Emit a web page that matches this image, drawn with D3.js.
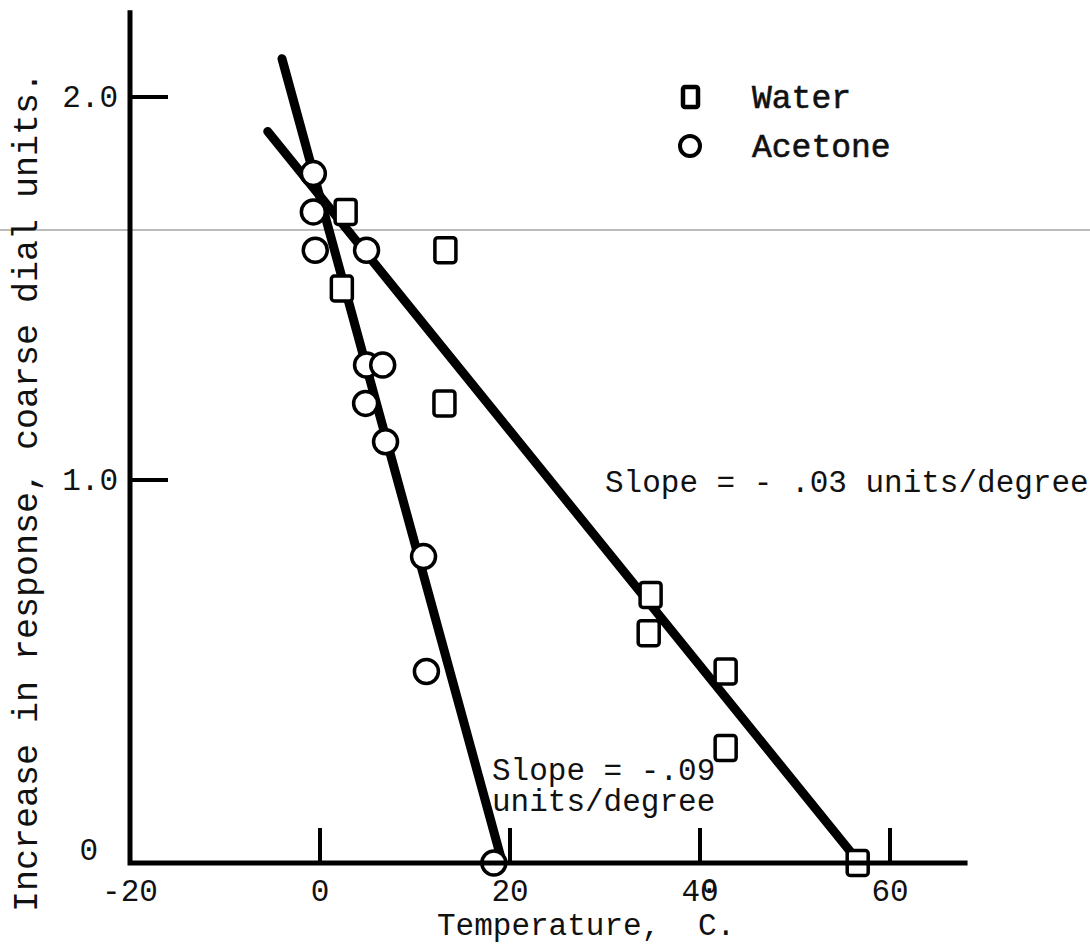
<!DOCTYPE html>
<html>
<head>
<meta charset="utf-8">
<script src="https://cdn.jsdelivr.net/npm/d3@7"></script>
<style>
  body { margin: 0; background: #fff; }
  text { font-family: "Liberation Mono", "Courier New", monospace; fill: #111; }
  .fit { fill: none; stroke: #000; stroke-width: 9; stroke-linecap: round; }
  .axis { stroke: #000; stroke-width: 5; stroke-linecap: square; fill: none; }
  .tick { stroke: #000; stroke-width: 4; }
  .marker { fill: #fff; stroke: #000; stroke-width: 3.5; }
</style>
</head>
<body>
<svg id="viz" width="1090" height="947"></svg>
<script>
window.onload = main;

// water readings (squares): temperature in C, increase in response
var waterTemp = [2.7, 2.3, 13.2, 13.1, 34.8, 34.6, 42.7, 42.7, 56.6];
var waterResp = [1.70, 1.50, 1.60, 1.20, 0.70, 0.60, 0.50, 0.30, 0.0];
// acetone readings (circles)
var acetoneTemp = [-0.7, -0.7, -0.5, 4.9, 4.9, 6.6, 4.8, 6.9, 10.9, 11.2, 18.3];
var acetoneResp = [1.80, 1.70, 1.60, 1.60, 1.30, 1.30, 1.20, 1.10, 0.80, 0.50, 0.0];
// hand drawn fitted lines, end points
var waterFitTemp = [-5.5, 56.8];
var waterFitResp = [1.91, 0.0];
var acetoneFitTemp = [-4.0, 19.2];
var acetoneFitResp = [2.10, 0.0];

var xTicks = [0, 20, 40, 60];
var xTickLabels = ["-20", "0", "20", "40", "60"];
var xLabelValues = [-20, 0, 20, 40, 60];
var yTicks = [2.0, 1.0];
var yTickLabels = ["2.0", "1.0", "0"];
var yLabelValues = [2.0, 1.0, 0];

function main(){
  var svg = d3.select("#viz");

  var xScale = d3.scaleLinear().domain([-20, 60]).range([130, 890]);
  var yScale = d3.scaleLinear().domain([0, 2]).range([863, 97]);

  // scan crease across the sheet
  svg.append("line")
    .attr("x1", 0).attr("x2", 1090)
    .attr("y1", 230).attr("y2", 230)
    .attr("stroke", "#7a7a7a").attr("stroke-width", 1.2);

  var line = d3.line()
    .x(function(d){ return xScale(d.t); })
    .y(function(d){ return yScale(d.v); });

  var waterFit = waterFitTemp.map(function(t, i){ return {t: t, v: waterFitResp[i]}; });
  var acetoneFit = acetoneFitTemp.map(function(t, i){ return {t: t, v: acetoneFitResp[i]}; });
  svg.append("path").datum(waterFit).attr("class", "fit").attr("d", line);
  svg.append("path").datum(acetoneFit).attr("class", "fit").attr("d", line);

  // markers
  var water = waterTemp.map(function(t, i){ return {t: t, v: waterResp[i]}; });
  var acetone = acetoneTemp.map(function(t, i){ return {t: t, v: acetoneResp[i]}; });

  svg.selectAll(".sq").data(water).enter().append("rect")
    .attr("class", "marker sq")
    .attr("x", function(d){ return xScale(d.t) - 10.5; })
    .attr("y", function(d){ return yScale(d.v) - 12.5; })
    .attr("width", 21).attr("height", 25)
    .attr("rx", 3);

  svg.selectAll(".circ").data(acetone).enter().append("circle")
    .attr("class", "marker circ")
    .attr("cx", function(d){ return xScale(d.t); })
    .attr("cy", function(d){ return yScale(d.v); })
    .attr("r", 12);

  // axes
  var xEnd = 67.9, yTop = 2.22;
  svg.append("path").attr("class", "axis")
    .attr("d", "M" + xScale(-20) + "," + yScale(yTop) + "V" + yScale(0) + "H" + xScale(xEnd));

  svg.selectAll(".xt").data(xTicks).enter().append("line")
    .attr("class", "tick")
    .attr("x1", function(d){ return xScale(d); })
    .attr("x2", function(d){ return xScale(d); })
    .attr("y1", yScale(0))
    .attr("y2", yScale(0) - 35);

  svg.selectAll(".yt").data(yTicks).enter().append("line")
    .attr("class", "tick")
    .attr("x1", xScale(-20))
    .attr("x2", xScale(-20) + 38)
    .attr("y1", function(d){ return yScale(d); })
    .attr("y2", function(d){ return yScale(d); });

  svg.selectAll(".xl").data(xLabelValues).enter().append("text")
    .attr("x", function(d){ return xScale(d); })
    .attr("y", yScale(0) + 38)
    .attr("text-anchor", "middle")
    .style("font-size", "31px")
    .text(function(d, i){ return xTickLabels[i]; });

  svg.selectAll(".yl").data(yLabelValues).enter().append("text")
    .attr("x", function(d){ return d === 0 ? xScale(-20) - 32 : xScale(-20) - 12; })
    .attr("y", function(d){ return yScale(d) + 10 - (d === 0 ? 13 : 0); })
    .attr("text-anchor", "end")
    .style("font-size", "31px")
    .text(function(d, i){ return yTickLabels[i]; });

  // axis titles
  svg.append("text")
    .attr("x", 437).attr("y", 935)
    .style("font-size", "31px")
    .text("Temperature,");
  svg.append("text")
    .attr("x", 702).attr("y", 893)
    .style("font-size", "25px")
    .text("o");
  svg.append("text")
    .attr("x", 698).attr("y", 935)
    .style("font-size", "31px")
    .text("C.");

  svg.append("text")
    .attr("transform", "translate(37," + 492 + ") rotate(-90)")
    .attr("text-anchor", "middle")
    .style("font-size", "35px")
    .text("Increase in response, coarse dial units.");

  // legend
  svg.append("rect").attr("class", "marker")
    .attr("x", 683).attr("y", 87).attr("width", 15).attr("height", 20).attr("rx", 2)
    .style("stroke-width", 4.5);
  svg.append("circle").attr("class", "marker")
    .attr("cx", 690).attr("cy", 146).attr("r", 10)
    .style("stroke-width", 4);
  svg.append("text").attr("x", 752).attr("y", 108)
    .style("font-size", "33px").style("stroke", "#111").style("stroke-width", 0.6)
    .text("Water");
  svg.append("text").attr("x", 752).attr("y", 157)
    .style("font-size", "33px").style("stroke", "#111").style("stroke-width", 0.6)
    .text("Acetone");

  // slope notes
  svg.append("text").attr("x", 605).attr("y", 492)
    .style("font-size", "31px")
    .text("Slope = - .03 units/degree");
  svg.append("text").attr("x", 492).attr("y", 780)
    .style("font-size", "31px")
    .text("Slope = -.09");
  svg.append("text").attr("x", 492).attr("y", 811)
    .style("font-size", "31px")
    .text("units/degree");
}
</script>
</body>
</html>
